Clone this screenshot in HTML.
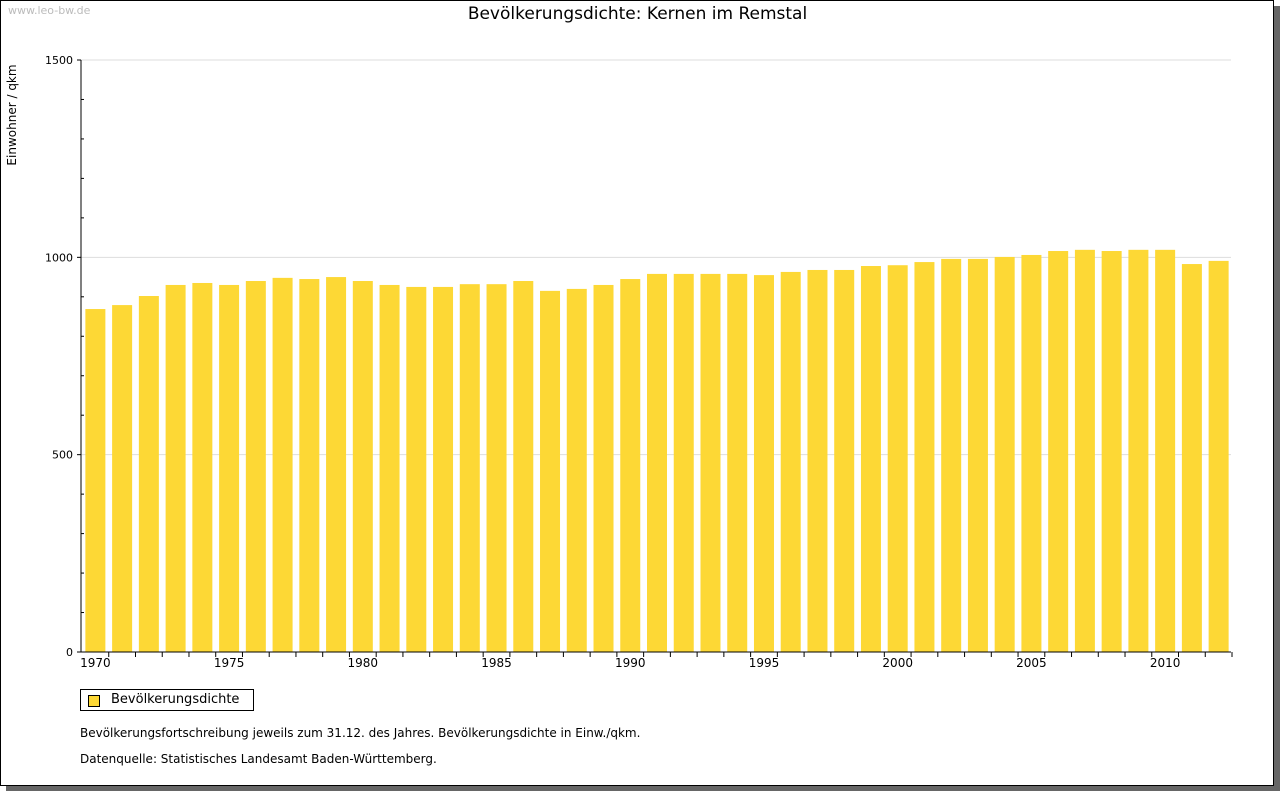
<!DOCTYPE html>
<html><head><meta charset="utf-8"><style>
body{margin:0;background:#fff;font-family:"DejaVu Sans","Liberation Sans",sans-serif;}
#frame{position:absolute;left:0;top:0;width:1274px;height:786px;border:1px solid #000;box-sizing:border-box;background:#fff;box-shadow:6px 6px 0 #666;}
.t{position:absolute;white-space:nowrap;}
</style></head><body>
<div id="frame"></div>
<div class="t" style="left:8px;top:4px;font-size:11px;color:#bbb">www.leo-bw.de</div>
<div class="t" style="left:0;width:1275px;text-align:center;top:4px;font-size:17px">Bevölkerungsdichte: Kernen im Remstal</div>
<svg id="c" width="1280" height="791" style="position:absolute;left:0;top:0"></svg>
<div class="t" style="left:80px;top:689px;width:174px;height:22px;border:1px solid #000;box-sizing:border-box;font-size:13px"><span style="position:absolute;left:7px;top:5px;width:10px;height:10px;border:1px solid #000;background:#fdd835"></span><span style="position:absolute;left:30px;top:2px">Bevölkerungsdichte</span></div>
<div class="t" style="left:80px;top:726px;font-size:12px">Bevölkerungsfortschreibung jeweils zum 31.12. des Jahres. Bevölkerungsdichte in Einw./qkm.</div>
<div class="t" style="left:80px;top:752px;font-size:12px">Datenquelle: Statistisches Landesamt Baden-Württemberg.</div>
<script>
const years=[1970,1971,1972,1973,1974,1975,1976,1977,1978,1979,1980,1981,1982,1983,1984,1985,1986,1987,1988,1989,1990,1991,1992,1993,1994,1995,1996,1997,1998,1999,2000,2001,2002,2003,2004,2005,2006,2007,2008,2009,2010,2011,2012];
const values=[869,879,902,930,935,930,940,948,945,950,940,930,925,925,932,932,940,915,920,930,945,958,958,958,958,955,963,968,968,978,980,988,996,996,1001,1006,1016,1019,1016,1019,1019,983,991];
const yTicks=[0,500,1000,1500];
const xLabels=[1970,1975,1980,1985,1990,1995,2000,2005,2010];
const svg=document.getElementById('c');const NS='http://www.w3.org/2000/svg';
const L=81,R=1231,T=60,B=652,yMax=1500;
const n=years.length,step=(R-L)/n;
const y=v=>B-(v/yMax)*(B-T);
const xc=i=>L+1+step*(i+0.5);
function mk(t,a){const e=document.createElementNS(NS,t);for(const k in a)e.setAttribute(k,a[k]);svg.appendChild(e);return e;}
yTicks.forEach(v=>{if(v>0){const g=mk('line',{x1:L,x2:R,y1:y(v),y2:y(v),stroke:'#ddd'});

}
const t=mk('text',{x:L-8,y:y(v)+4,'text-anchor':'end','font-size':11,'font-family':'DejaVu Sans,sans-serif'});t.textContent=v;


mk('line',{x1:L-4,x2:L,y1:y(v),y2:y(v),stroke:'#000'});});
for(let v=100;v<yMax;v+=100){if(v%500)mk('line',{x1:L,x2:L+3,y1:y(v),y2:y(v),stroke:'#000'});}
years.forEach((yr,i)=>{const r=mk('rect',{x:xc(i)-10,y:y(values[i]),width:20,height:B-y(values[i]),fill:'#fdd835'});


mk('line',{x1:L+1+step*(i+1),x2:L+1+step*(i+1),y1:B,y2:B+5,stroke:'#000'});});
xLabels.forEach(yr=>{const i=years.indexOf(yr);const t=mk('text',{x:xc(i),y:B+15,'text-anchor':'middle','font-size':12,'font-family':'DejaVu Sans,sans-serif'});t.textContent=yr;

});
const ax=mk('path',{d:`M${L} ${T}V${B}H${R}`,stroke:'#000',fill:'none'});


const yt=mk('text',{x:0,y:0,transform:'translate(16,115) rotate(-90)','text-anchor':'middle','font-size':12,'font-family':'DejaVu Sans,sans-serif'});yt.textContent='Einwohner / qkm';


</script>
</body></html>
